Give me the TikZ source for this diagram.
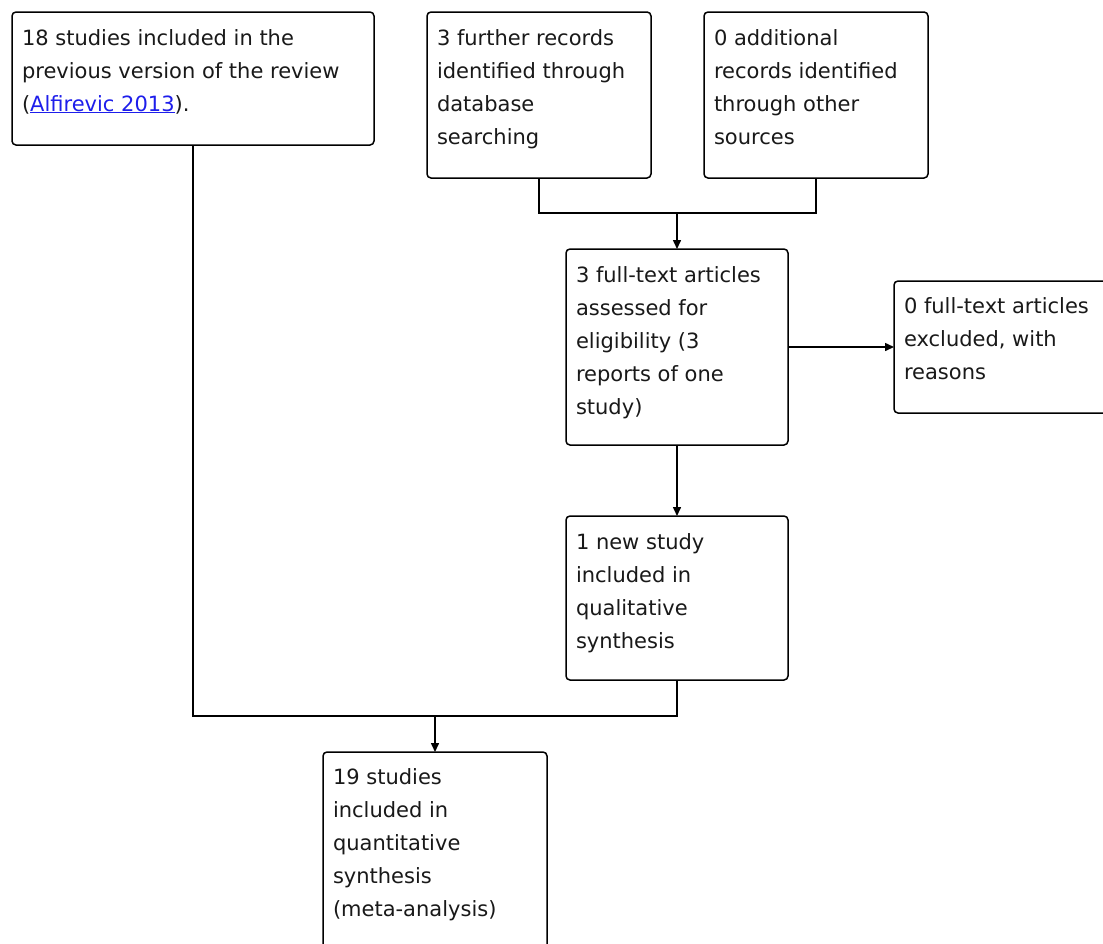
\documentclass[tikz,border=0pt]{standalone}
\usepackage{fontspec}
\setmainfont{DejaVu Sans}
\usetikzlibrary{arrows.meta}
\definecolor{linkblue}{RGB}{30,30,235}
\definecolor{txt}{RGB}{25,25,25}
\newcommand{\lnk}[1]{\textcolor{linkblue}{\underline{#1}}}
\tikzset{
  box/.style={draw=black, line width=1.5pt, rounded corners=4pt, inner sep=0pt, outer sep=0pt, anchor=north west, fill=white},
  boxtext/.style={anchor=base west, inner sep=0pt, outer sep=0pt, text=txt, font=\fontsize{21}{33}\selectfont},
  conn/.style={draw=black, line width=1.5pt},
  arr/.style={conn, -{Triangle[length=9pt,width=8pt]}}
}
\newcommand{\lines}[2]{\parbox[t]{#1pt}{\raggedright\fontsize{21}{33}\selectfont #2}}
\begin{document}
\begin{tikzpicture}[x=1pt,y=-1pt]
\useasboundingbox (0,0) rectangle (1103,943);
\clip (0,0) rectangle (1103,943);
\fill[white] (0,0) rectangle (1103,943);
% boxes
\node[box, minimum width=362pt, minimum height=133pt] (A) at (12,12) {};
\node[box, minimum width=224pt, minimum height=166pt] (B) at (427,12) {};
\node[box, minimum width=224pt, minimum height=166pt] (C) at (704,12) {};
\node[box, minimum width=222pt, minimum height=196pt] (D) at (566,249) {};
\node[box, minimum width=225pt, minimum height=132pt] (E) at (894,281) {};
\node[box, minimum width=222pt, minimum height=164pt] (F) at (566,516) {};
\node[box, minimum width=224pt, minimum height=205pt] (G) at (323,752) {};
% texts
\node[boxtext] (At) at (22,45) {\lines{360}{18 studies included in the\\previous version of the review\\(\lnk{Alfirevic 2013}).}};
\node[boxtext] (Bt) at (437,45) {\lines{220}{3 further records\\identified through\\database\\searching}};
\node[boxtext] (Ct) at (714,45) {\lines{220}{0 additional\\records identified\\through other\\sources}};
\node[boxtext] (Dt) at (576,282) {\lines{220}{3 full-text articles\\assessed for\\eligibility (3\\reports of one\\study)}};
\node[boxtext] (Et) at (904,313) {\lines{220}{0 full-text articles\\excluded, with\\reasons}};
\node[boxtext] (Ft) at (576,549) {\lines{220}{1 new study\\included in\\qualitative\\synthesis}};
\node[boxtext] (Gt) at (333,784) {\lines{220}{19 studies\\included in\\quantitative\\synthesis\\(meta-analysis)}};
% connectors
\coordinate (j1) at (677,213);
\coordinate (j2) at (435,716);
\draw[conn] (B.south) |- (j1);
\draw[conn] (C.south) |- (j1);
\draw[arr] (j1) -- (D.north);
\draw[arr] (D.east) -- (E.west);
\draw[arr] (D.south) -- (F.north);
\draw[conn] (A.south) |- (j2);
\draw[conn] (F.south) |- (j2);
\draw[arr] (j2) -- (G.north);
\end{tikzpicture}
\end{document}
